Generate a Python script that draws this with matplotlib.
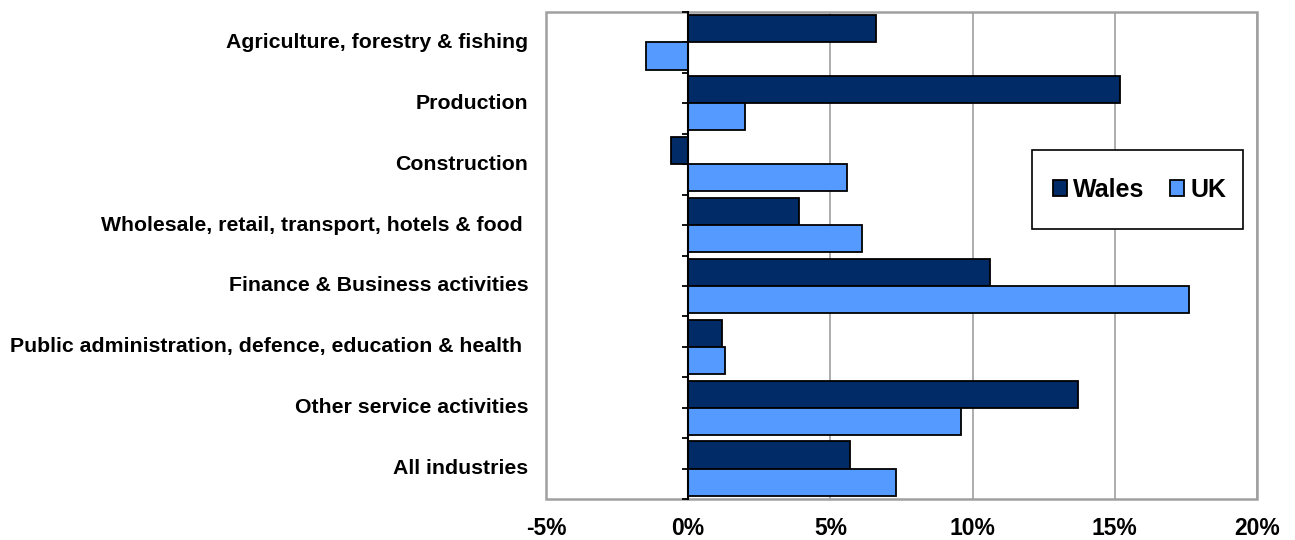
import numpy as np
import matplotlib
matplotlib.use("Agg")
import matplotlib.pyplot as plt
from matplotlib.patches import Rectangle
from matplotlib.ticker import FuncFormatter, MultipleLocator
import matplotlib.transforms as mtransforms

# --- data: growth by industry (%) ---
categories = [
    "Agriculture, forestry & fishing",
    "Production",
    "Construction",
    "Wholesale, retail, transport, hotels & food ",
    "Finance & Business activities",
    "Public administration, defence, education & health ",
    "Other service activities",
    "All industries",
]
wales = [6.6, 15.2, -0.6, 3.9, 10.6, 1.2, 13.7, 5.7]
uk = [-1.5, 2.0, 5.6, 6.1, 17.6, 1.3, 9.6, 7.3]

WALES_COLOR = "#002b66"
UK_COLOR = "#559bff"
GRID_COLOR = "#a0a0a0"

plt.rcParams["font.family"] = ["Liberation Sans", "DejaVu Sans"]
plt.rcParams["font.weight"] = "bold"

fig = plt.figure(figsize=(12.95, 5.40), dpi=100)
ax = fig.add_axes([0.4216, 0.0759, 0.549, 0.9019])

y = np.arange(len(categories))
h = 0.446
ax.barh(y - h / 2, wales, height=h, color=WALES_COLOR, edgecolor="black",
        linewidth=1.3, label="Wales", zorder=3)
ax.barh(y + h / 2, uk, height=h, color=UK_COLOR, edgecolor="black",
        linewidth=1.3, label="UK", zorder=3)

ax.set_xlim(-5, 20)
ax.set_ylim(len(categories) - 0.5, -0.5)

# x axis: percent labels, vertical gridlines
ax.xaxis.set_major_locator(MultipleLocator(5))
ax.xaxis.set_major_formatter(FuncFormatter(lambda v, p: f"{v:.0f}%"))
ax.tick_params(axis="x", length=0, pad=13, labelsize=16.5)
for lab in ax.get_xticklabels():
    lab.set_fontweight("bold")
ax.grid(axis="x", color=GRID_COLOR, linewidth=1.2, zorder=0)

# category axis crosses at zero
for side in ["top", "right", "bottom"]:
    ax.spines[side].set_visible(False)
ax.spines["left"].set_position(("data", 0))
ax.spines["left"].set_color("black")
ax.spines["left"].set_linewidth(1.5)
ax.spines["left"].set_zorder(4)
ax.yaxis.set_major_locator(MultipleLocator(0.5))
ax.tick_params(axis="y", length=4, width=1.3, color="black", labelleft=False)

# plot area border
ax.add_patch(Rectangle((0, 0), 1, 1, transform=ax.transAxes, fill=False,
                       edgecolor=GRID_COLOR, linewidth=1.8, clip_on=False, zorder=1))

# category labels at the far left
trans = mtransforms.blended_transform_factory(ax.transAxes, ax.transData)
for i, name in enumerate(categories):
    ax.text(-0.025, i, name, transform=trans, ha="right", va="center",
            fontsize=15.3, fontweight="bold")

# legend in a boxed panel
box = Rectangle((0.6835, 0.554), 0.2965, 0.1626, transform=ax.transAxes,
                facecolor="white", edgecolor="black", linewidth=1.2, zorder=5)
ax.add_patch(box)
leg = ax.legend(loc="center", bbox_to_anchor=(0.6835 + 0.2965 / 2 + 0.003, 0.554 + 0.1626 / 2),
                ncol=2, frameon=False, prop={"size": 18, "weight": "bold"},
                handlelength=0.58, handleheight=0.58, handletextpad=0.25,
                columnspacing=1.0, borderaxespad=0)
leg.set_zorder(6)

fig.savefig("out.png", dpi=100)
